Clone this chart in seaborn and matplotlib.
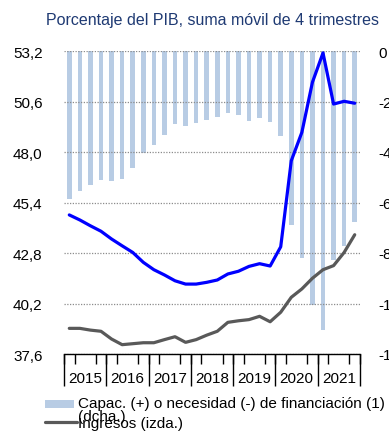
import numpy as np
import pandas as pd
import matplotlib
matplotlib.use("Agg")
import matplotlib.pyplot as plt
import seaborn as sns
from matplotlib.patches import Rectangle
from matplotlib.lines import Line2D

# Quarterly series, % of GDP, 4-quarter rolling sum
years = [2015, 2016, 2017, 2018, 2019, 2020, 2021]
trimestres = [f"{y}T{q}" for y in years for q in range(1, 5)]

# Net lending (+) / borrowing (-), right axis
capacidad = [-5.86, -5.56, -5.31, -5.11, -5.14, -5.07, -4.65, -4.05,
             -3.71, -3.31, -2.89, -2.98, -2.86, -2.72, -2.63, -2.47,
             -2.52, -2.76, -2.67, -2.83, -3.35, -6.90, -8.21, -10.07,
             -11.06, -8.26, -7.71, -6.76]
# Expenditure, left axis
empleos = [44.76, 44.50, 44.20, 43.92, 43.52, 43.17, 42.83, 42.32,
           41.94, 41.67, 41.37, 41.20, 41.20, 41.29, 41.41, 41.72,
           41.86, 42.11, 42.25, 42.13, 43.12, 47.55, 49.01, 51.59,
           53.10, 50.47, 50.61, 50.51]
# Revenue, left axis
ingresos = [38.92, 38.92, 38.83, 38.77, 38.37, 38.08, 38.13, 38.18,
            38.18, 38.34, 38.49, 38.20, 38.34, 38.57, 38.77, 39.23,
            39.31, 39.37, 39.54, 39.26, 39.75, 40.52, 40.95, 41.50,
            41.94, 42.15, 42.83, 43.74]

left_ticks = [37.6, 40.2, 42.8, 45.4, 48.0, 50.6, 53.2]
right_ticks = [-12, -10, -8, -6, -4, -2, 0]

titulo = "Porcentaje del PIB, suma móvil de 4 trimestres"
lbl_capacidad = "Capac. (+) o necesidad (-) de financiación (1)"
lbl_capacidad2 = "(dcha.)"
lbl_ingresos = "Ingresos (izda.)"

BAR_COLOR = "#B8CCE4"
BLUE = "#0000FF"
GREY = "#595959"
NAVY = "#1F3A73"

sns.set_theme(style="white")
plt.rcParams["font.family"] = ["Liberation Sans", "DejaVu Sans"]

df = pd.DataFrame({
    "trimestre": trimestres,
    "pos": np.arange(len(trimestres)),
    "capacidad": capacidad,
    "empleos": empleos,
    "ingresos": ingresos,
})

W, H = 389, 439
fig = plt.figure(figsize=(W / 100, H / 100), dpi=100)
ax = fig.add_axes([64 / W, 1 - 355 / H, 296 / W, 303 / H])
ax2 = ax.twinx()

# bars on the right axis
sns.barplot(data=df, x="pos", y="capacidad", ax=ax2, native_scale=True,
            orient="x", color=BAR_COLOR, saturation=1, width=0.42,
            linewidth=0, errorbar=None)

# lines on the left axis
sns.lineplot(data=df, x="pos", y="empleos", ax=ax, color=BLUE, lw=2.3)
sns.lineplot(data=df, x="pos", y="ingresos", ax=ax, color=GREY, lw=2.3)

# layering: lines and grid above bars
ax.set_zorder(ax2.get_zorder() + 1)
ax.patch.set_visible(False)
ax2.patch.set_visible(False)

n = len(trimestres)
ax.set_xlim(-0.5, n - 0.5)
ax.set_ylim(left_ticks[0], left_ticks[-1])
ax2.set_ylim(right_ticks[0], right_ticks[-1])

ax.set_xlabel("")
ax.set_ylabel("")
ax2.set_xlabel("")
ax2.set_ylabel("")

ax.set_yticks(left_ticks)
ax.set_yticklabels([f"{v:.1f}".replace(".", ",") for v in left_ticks])
ax2.set_yticks(right_ticks)
ax2.set_yticklabels([str(v) for v in right_ticks])

ax.tick_params(axis="y", left=False, pad=9.4, labelsize=11, colors="black")
ax2.tick_params(axis="y", right=False, pad=7.4, labelsize=11, colors="black")

ax.yaxis.grid(True, linestyle=(0, (1, 1.2)), color="#8C8C8C", linewidth=0.9)
ax.xaxis.grid(False)
ax2.grid(False)

for s in ["top", "left", "right"]:
    ax.spines[s].set_visible(False)
for s in ax2.spines.values():
    s.set_visible(False)
ax.spines["bottom"].set_color("black")
ax.spines["bottom"].set_linewidth(1.0)

# year labels centred in each year; quarter ticks at boundaries
year_centres = [1.5 + 4 * i for i in range(len(years))]
ax.set_xticks(year_centres)
ax.set_xticklabels([str(y) for y in years])
ax.set_xticks(np.arange(-0.5, n, 1), minor=True)
ax.tick_params(axis="x", which="major", length=0, pad=12, labelsize=11,
               colors="black")
ax.tick_params(axis="x", which="minor", bottom=True, length=7.2, width=1.0,
               color="black", direction="out")
# long year separators
ax.vlines(np.arange(-0.5, n + 0.1, 4), -0.105, 0,
          transform=ax.get_xaxis_transform(), clip_on=False,
          color="black", lw=1.0)

fig.text(212.5 / W, 1 - 20 / H, titulo, ha="center", va="center",
         color=NAVY, fontsize=11.5)

# legend
fig.patches.append(Rectangle((45 / W, 1 - 409 / H), 29 / W, 8 / H,
                             transform=fig.transFigure, color=BAR_COLOR,
                             lw=0))
fig.text(78 / W, 1 - 404 / H, lbl_capacidad, ha="left", va="center",
         fontsize=11, color="black")
fig.text(78 / W, 1 - 417 / H, lbl_capacidad2, ha="left", va="center",
         fontsize=11, color="black")
fig.lines.append(Line2D([45 / W, 77 / W], [1 - 422.7 / H, 1 - 422.7 / H],
                        transform=fig.transFigure, color=GREY, lw=2.3))
fig.text(78 / W, 1 - 424 / H, lbl_ingresos, ha="left", va="center",
         fontsize=11, color="black")

fig.savefig("out.png", dpi=100)
